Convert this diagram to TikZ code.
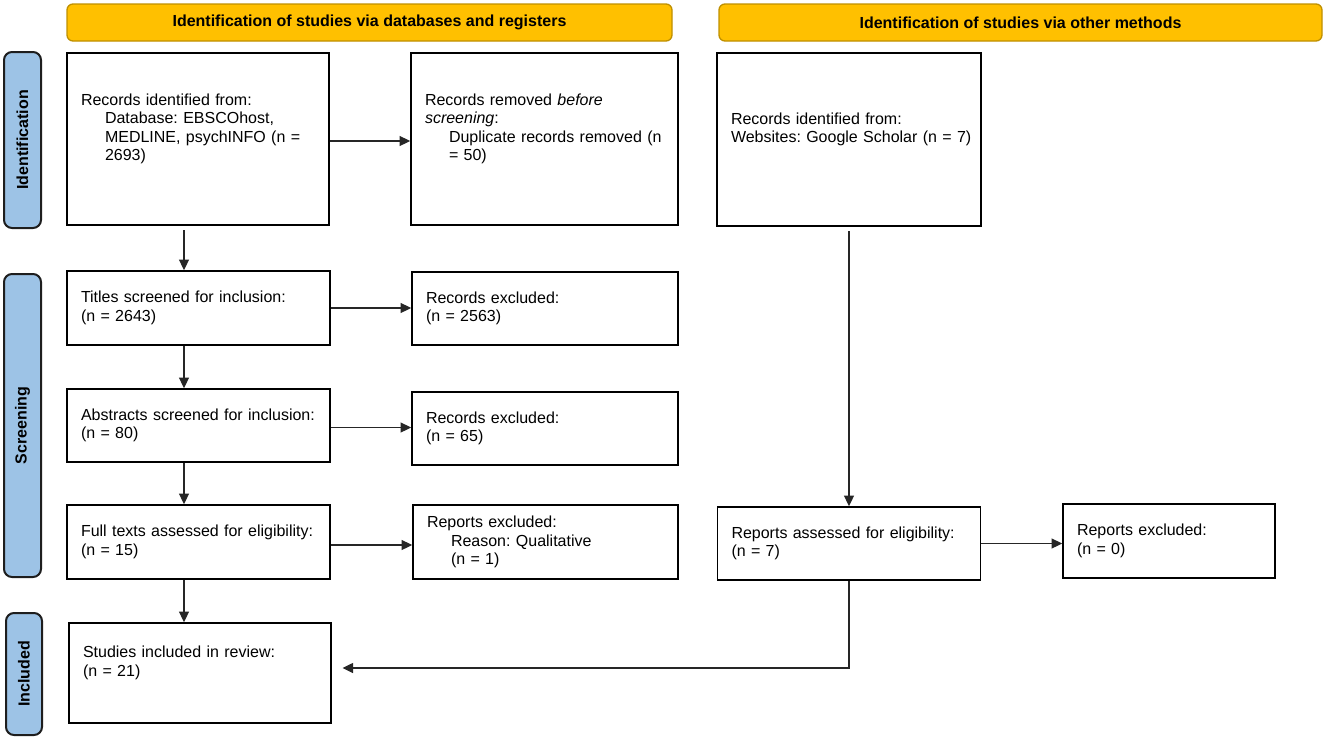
\documentclass[tikz,border=0pt]{standalone}
\usepackage{fontspec}
\setmainfont{Liberation Sans}
\usetikzlibrary{arrows.meta}
\definecolor{bannerfill}{HTML}{FFC000}
\definecolor{bannerline}{HTML}{BF9000}
\definecolor{barfill}{HTML}{9DC3E6}
\definecolor{barline}{HTML}{1E1E1E}
\tikzset{
  box/.style={draw=black, line width=1.2pt, fill=white, align=left, inner xsep=10.5pt, inner ysep=0pt,
    font=\fontsize{12}{13.8}\selectfont\frenchspacing},
  banner/.style={draw=bannerline, fill=bannerfill, rounded corners=4.5pt, line width=1pt,
    font=\bfseries\fontsize{12}{14}\selectfont},
  phase/.style={draw=barline, fill=barfill, rounded corners=6pt, line width=1.5pt, rotate=90,
    font=\bfseries\fontsize{12}{14}\selectfont},
  arr/.style={-{Triangle[length=8pt,width=7.5pt]}, line width=1pt, draw=black!85},
}
\newcommand{\ind}{\hspace*{18pt}}
\begin{document}
\begin{tikzpicture}[x=0.75pt,y=-0.75pt]
\useasboundingbox (0,0) rectangle (1325,740);
% banners
\node[banner, minimum width=453.75pt, minimum height=27.75pt] (ban1) at (369.5,22.5) {Identification of studies via databases and registers};
\node[banner, minimum width=452.25pt, minimum height=27.75pt] (ban2) at (1020.5,22.5) {Identification of studies via other methods};
% phase bars
\node[phase, minimum width=132pt, minimum height=27.75pt] (pid) at (22.5,140) {Identification};
\node[phase, minimum width=227.25pt, minimum height=27.75pt] (pscr) at (22.5,425.5) {Screening};
\node[phase, minimum width=91.5pt, minimum height=27pt] (pinc) at (24,674) {Included};
% boxes
\node[box, minimum width=196.5pt, minimum height=129pt, text width=175.5pt] (b1) at (198,139)
  {Records identified from:\\ \ind Database: EBSCOhost,\\ \ind MEDLINE, psychINFO (n =\\ \ind 2693)\\ \strut};
\node[box, minimum width=200.25pt, minimum height=129pt, text width=179.25pt] (b2) at (544.5,139)
  {Records removed \textit{before}\\ \textit{screening}:\\ \ind \mbox{Duplicate records removed (n}\\ \ind = 50)\\ \strut};
\node[box, minimum width=198pt, minimum height=129.75pt, text width=177pt] (b3) at (849,139.5)
  {Records identified from:\\ \mbox{Websites: Google Scholar (n = 7)}\\ \strut};
\node[box, minimum width=197.25pt, minimum height=55.5pt, text width=176.25pt] (t) at (198.5,308)
  {Titles screened for inclusion:\\ (n = 2643)};
\node[box, minimum width=199.5pt, minimum height=54.75pt, text width=178.5pt] (r1) at (545,308.5)
  {Records excluded:\\ (n = 2563)};
\node[box, minimum width=197.25pt, minimum height=54.75pt, text width=176.25pt] (a) at (198.5,425.5)
  {Abstracts screened for inclusion:\\ (n = 80)};
\node[box, minimum width=199.5pt, minimum height=54.75pt, text width=178.5pt] (r2) at (545,428.5)
  {Records excluded:\\ (n = 65)};
\node[box, minimum width=197.25pt, minimum height=55.5pt, text width=176.25pt] (f) at (198.5,542)
  {Full texts assessed for eligibility:\\ (n = 15)};
\node[box, minimum width=198.75pt, minimum height=55.5pt, text width=177.75pt] (r3) at (545.5,542)
  {Reports excluded:\\ \ind Reason: Qualitative\\ \ind (n = 1)};
\node[box, minimum width=196.5pt, minimum height=75pt, text width=175.5pt] (s) at (200,673)
  {Studies included in review:\\ (n = 21)\\ \strut};
\node[box, minimum width=197.25pt, minimum height=54.75pt, text width=176.25pt] (ra) at (849,543.5)
  {Reports assessed for eligibility:\\ (n = 7)};
\node[box, minimum width=159pt, minimum height=55.5pt, text width=138pt] (re) at (1169,541)
  {Reports excluded:\\ (n = 0)};
% connectors
\coordinate (vx) at (184,0);
\draw[arr] ([yshift=-1.5pt]b1.east) -- ([yshift=-1.5pt]b1.east -| b2.west);
\draw[arr] (t.east) -- (t.east -| r1.west);
\draw[arr] ([yshift=-1.5pt]a.east) -- ([yshift=-1.5pt]a.east -| r2.west);
\draw[arr] ([yshift=-2.25pt]f.east) -- ([yshift=-2.25pt]f.east -| r3.west);
\draw[arr, shorten <=3.5pt] (b1.south -| vx) -- (t.north -| vx);
\draw[arr] (t.south -| vx) -- (a.north -| vx);
\draw[arr] (a.south -| vx) -- (f.north -| vx);
\draw[arr] (f.south -| vx) -- (s.north -| vx);
\draw[arr, shorten <=3.5pt] (b3.south) -- (b3.south |- ra.north);
\draw[arr] (ra.east) -- (ra.east -| re.west);
\draw[arr, shorten >=8pt] (ra.south) |- ([yshift=3.75pt]s.east);
\end{tikzpicture}
\end{document}
